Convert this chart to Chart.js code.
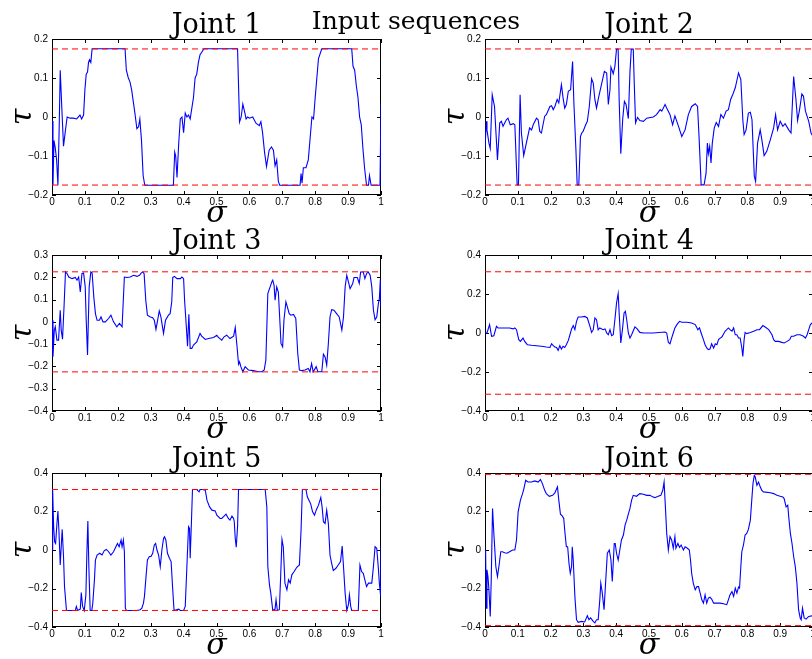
<!DOCTYPE html>
<html>
<head>
<meta charset="utf-8">
<script src="https://cdn.jsdelivr.net/npm/chart.js@4.4.1/dist/chart.umd.min.js"></script>
<style>
  html, body { margin: 0; padding: 0; background: #fff; }
  body { width: 812px; height: 659px; overflow: hidden; position: relative; }
  canvas { position: absolute; }
  #mainTitle {
    position: absolute; left: 0; width: 832px; top: 8px; text-align: center;
    font: 25px/25px "DejaVu Serif", serif; color: #000;
  }
</style>
</head>
<body>
<canvas id="c1" width="400" height="217" style="left:0;top:12px"></canvas>
<canvas id="c2" width="400" height="217" style="left:433px;top:12px"></canvas>
<canvas id="c3" width="400" height="217" style="left:0;top:228px"></canvas>
<canvas id="c4" width="400" height="217" style="left:433px;top:228px"></canvas>
<canvas id="c5" width="400" height="215" style="left:0;top:446px"></canvas>
<canvas id="c6" width="400" height="215" style="left:433px;top:446px"></canvas>
<div id="mainTitle">Input sequences</div>

<script>
// values: [sigma, tau]
const joint1 = [[0,-0.01],[0.003,-0.175],[0.006,-0.06],[0.01,-0.08],[0.014,-0.11],[0.018,-0.175],[0.022,-0.02],[0.025,0.12],[0.03,0.02],[0.035,-0.075],[0.04,-0.04],[0.046,0],[0.055,-0.003],[0.065,-0.003],[0.075,-0.005],[0.085,0.005],[0.09,-0.005],[0.096,0.005],[0.1,0.07],[0.104,0.11],[0.108,0.115],[0.111,0.14],[0.114,0.147],[0.118,0.14],[0.122,0.175],[0.222,0.175],[0.226,0.12],[0.232,0.1],[0.237,0.09],[0.242,0.07],[0.247,0.04],[0.252,0.01],[0.258,-0.03],[0.263,-0.025],[0.267,-0.005],[0.272,-0.06],[0.277,-0.15],[0.282,-0.175],[0.369,-0.175],[0.373,-0.09],[0.376,-0.1],[0.38,-0.155],[0.385,-0.07],[0.39,-0.005],[0.395,0],[0.4,-0.04],[0.405,0.01],[0.41,0],[0.415,0.005],[0.42,-0.005],[0.43,0.05],[0.435,0.1],[0.44,0.11],[0.445,0.14],[0.45,0.16],[0.462,0.175],[0.564,0.175],[0.567,0.08],[0.57,-0.013],[0.575,0],[0.58,0.033],[0.585,0.015],[0.59,-0.005],[0.595,0],[0.6,-0.003],[0.61,0],[0.62,-0.016],[0.63,-0.022],[0.635,-0.012],[0.64,-0.04],[0.646,-0.09],[0.652,-0.127],[0.66,-0.085],[0.667,-0.077],[0.673,-0.085],[0.678,-0.125],[0.683,-0.11],[0.688,-0.165],[0.692,-0.175],[0.754,-0.175],[0.757,-0.145],[0.76,-0.17],[0.764,-0.13],[0.772,-0.13],[0.779,-0.11],[0.785,-0.05],[0.79,0],[0.795,-0.005],[0.8,0.05],[0.805,0.1],[0.81,0.15],[0.82,0.175],[0.911,0.175],[0.915,0.13],[0.92,0.12],[0.925,0.08],[0.93,0.05],[0.935,0],[0.94,-0.02],[0.945,-0.08],[0.95,-0.13],[0.956,-0.175],[0.962,-0.175],[0.965,-0.15],[0.97,-0.175],[0.997,-0.175],[1,0.035]];

const joint2 = [[0,-0.081],[0.004,-0.011],[0.006,-0.033],[0.012,-0.067],[0.016,-0.081],[0.022,0.057],[0.029,0.027],[0.038,-0.11],[0.045,-0.015],[0.05,-0.011],[0.055,-0.024],[0.065,-0.007],[0.07,-0.003],[0.077,-0.02],[0.086,-0.017],[0.091,-0.02],[0.098,-0.174],[0.102,-0.174],[0.107,0.057],[0.111,-0.041],[0.118,-0.099],[0.126,-0.067],[0.136,-0.028],[0.142,-0.033],[0.147,-0.02],[0.157,-0.003],[0.162,-0.007],[0.167,-0.037],[0.172,-0.041],[0.182,0.002],[0.187,0.006],[0.198,0.027],[0.203,0.029],[0.208,0.019],[0.213,0.027],[0.22,0.045],[0.225,0.036],[0.233,0.083],[0.238,0.049],[0.243,0.023],[0.248,0.032],[0.254,0.066],[0.261,0.07],[0.267,0.142],[0.271,0.036],[0.277,-0.08],[0.281,-0.174],[0.286,-0.174],[0.291,-0.05],[0.295,-0.041],[0.299,-0.037],[0.307,-0.02],[0.312,-0.011],[0.318,0.027],[0.325,0.098],[0.33,0.087],[0.335,0.045],[0.34,0.023],[0.347,0.053],[0.355,0.083],[0.364,0.117],[0.371,0.113],[0.376,0.032],[0.381,0.07],[0.384,0.128],[0.391,0.111],[0.396,0.13],[0.401,0.174],[0.406,0.174],[0.409,0.045],[0.414,-0.094],[0.42,-0.003],[0.425,0.04],[0.43,0.032],[0.437,-0.004],[0.442,0.117],[0.446,0.174],[0.452,0.174],[0.455,0.087],[0.459,-0.015],[0.465,-0.001],[0.472,-0.009],[0.483,-0.011],[0.493,-0.003],[0.513,0],[0.523,0.006],[0.534,0.019],[0.539,0.015],[0.549,0.032],[0.554,0.023],[0.564,0.006],[0.572,-0.02],[0.579,0.003],[0.59,-0.024],[0.6,-0.05],[0.61,-0.033],[0.62,0.006],[0.63,0.027],[0.641,0.034],[0.648,0.027],[0.653,-0.058],[0.659,-0.174],[0.668,-0.174],[0.674,-0.144],[0.678,-0.067],[0.681,-0.094],[0.685,-0.075],[0.689,-0.118],[0.693,-0.067],[0.699,-0.028],[0.705,-0.014],[0.712,-0.024],[0.719,0.006],[0.727,-0.003],[0.735,0.015],[0.742,0.019],[0.749,0.045],[0.756,0.059],[0.763,0.075],[0.773,0.113],[0.78,0.096],[0.786,-0.007],[0.79,-0.045],[0.796,-0.033],[0.803,0.01],[0.809,0.012],[0.814,-0.007],[0.821,-0.152],[0.825,-0.165],[0.831,-0.067],[0.839,-0.033],[0.844,-0.058],[0.851,-0.099],[0.859,-0.088],[0.87,-0.058],[0.88,-0.028],[0.886,0.006],[0.892,-0.033],[0.9,-0.011],[0.908,-0.024],[0.915,-0.017],[0.926,-0.033],[0.933,-0.041],[0.941,0.104],[0.948,0.045],[0.953,-0.009],[0.959,0.019],[0.966,0.059],[0.971,0.053],[0.977,0.015],[0.987,-0.011],[0.994,-0.041],[1,-0.05]];

const joint3 = [[0,0.007],[0.003,-0.157],[0.007,-0.037],[0.01,-0.022],[0.015,-0.082],[0.02,-0.082],[0.025,0.052],[0.028,-0.037],[0.032,-0.078],[0.037,0.082],[0.041,0.224],[0.046,0.216],[0.051,0.201],[0.061,0.194],[0.071,0.199],[0.076,0.187],[0.081,0.201],[0.086,0.134],[0.091,0.216],[0.096,0.219],[0.101,0.157],[0.104,0.007],[0.108,-0.149],[0.113,0.157],[0.118,0.224],[0.122,0.219],[0.127,0.112],[0.132,0.037],[0.137,0.007],[0.144,0.007],[0.149,0.022],[0.155,0],[0.162,0],[0.172,0.015],[0.179,0.03],[0.187,0],[0.197,-0.022],[0.205,-0.007],[0.213,-0.022],[0.22,0.201],[0.228,0.199],[0.238,0.201],[0.248,0.209],[0.258,0.204],[0.266,0.209],[0.271,0.219],[0.276,0.224],[0.28,0.216],[0.285,0.097],[0.29,0.03],[0.299,0.022],[0.306,0.019],[0.311,0.007],[0.316,-0.034],[0.321,0.007],[0.326,0.049],[0.331,0.022],[0.339,-0.052],[0.345,0.007],[0.354,0.03],[0.359,0.037],[0.364,0.09],[0.367,0.199],[0.372,0.204],[0.38,0.194],[0.39,0.194],[0.395,0.201],[0.4,0.194],[0.403,0.097],[0.407,0.007],[0.412,-0.109],[0.416,0.034],[0.42,-0.119],[0.425,-0.119],[0.43,-0.104],[0.44,-0.09],[0.45,-0.052],[0.455,-0.064],[0.466,-0.079],[0.476,-0.075],[0.491,-0.07],[0.501,-0.06],[0.506,-0.07],[0.516,-0.082],[0.523,-0.067],[0.531,-0.06],[0.541,-0.075],[0.552,-0.064],[0.557,-0.025],[0.562,-0.104],[0.567,-0.19],[0.57,-0.179],[0.574,-0.201],[0.58,-0.224],[0.587,-0.201],[0.597,-0.216],[0.612,-0.219],[0.628,-0.224],[0.638,-0.224],[0.645,-0.216],[0.65,-0.172],[0.653,-0.022],[0.656,0.127],[0.663,0.157],[0.668,0.179],[0.671,0.187],[0.675,0.164],[0.678,0.097],[0.683,0.157],[0.688,0.134],[0.693,-0.007],[0.696,-0.097],[0.701,-0.112],[0.705,0.007],[0.711,0.09],[0.716,0.064],[0.721,0.037],[0.726,0.03],[0.734,0.033],[0.741,0.015],[0.747,-0.142],[0.752,-0.216],[0.759,-0.219],[0.769,-0.216],[0.779,-0.209],[0.784,-0.224],[0.789,-0.187],[0.794,-0.224],[0.803,-0.201],[0.808,-0.224],[0.815,-0.224],[0.82,-0.224],[0.825,-0.145],[0.83,-0.157],[0.835,-0.194],[0.84,-0.097],[0.845,0.022],[0.85,0.055],[0.857,0.052],[0.865,0.037],[0.873,0.022],[0.881,-0.037],[0.886,0.022],[0.891,0.157],[0.896,0.209],[0.901,0.179],[0.906,0.149],[0.914,0.172],[0.918,0.199],[0.928,0.199],[0.934,0.172],[0.938,0.224],[0.946,0.224],[0.951,0.194],[0.956,0.216],[0.961,0.224],[0.967,0.209],[0.972,0.157],[0.977,0.052],[0.982,0.01],[0.987,0.022],[0.992,0.082],[0.995,0.104],[0.998,0.19],[1,0.067]];

const joint4 = [[0,0],[0.006,0],[0.014,0.043],[0.02,-0.017],[0.027,-0.014],[0.035,0.034],[0.04,0.026],[0.06,0.026],[0.075,0.026],[0.086,0.021],[0.091,0.026],[0.096,0.017],[0.103,-0.034],[0.108,-0.043],[0.116,-0.026],[0.121,-0.043],[0.129,-0.06],[0.142,-0.063],[0.157,-0.065],[0.172,-0.068],[0.187,-0.072],[0.198,-0.074],[0.203,-0.055],[0.208,-0.065],[0.213,-0.072],[0.218,-0.074],[0.223,-0.089],[0.228,-0.065],[0.233,-0.082],[0.238,-0.068],[0.243,-0.074],[0.248,-0.06],[0.254,-0.038],[0.259,-0.009],[0.264,0.021],[0.269,0.038],[0.274,0.017],[0.279,0.06],[0.284,0.082],[0.294,0.082],[0.304,0.085],[0.312,0.077],[0.32,0.034],[0.325,0.003],[0.33,0.017],[0.335,0.077],[0.34,0.068],[0.345,0.017],[0.35,0.026],[0.36,0.017],[0.366,0.021],[0.371,0],[0.376,-0.009],[0.381,0.017],[0.386,-0.014],[0.391,-0.009],[0.396,0.068],[0.401,0.154],[0.406,0.202],[0.409,0.103],[0.414,-0.051],[0.419,0.017],[0.424,0.103],[0.428,0.111],[0.432,0.068],[0.437,0],[0.442,-0.026],[0.447,-0.009],[0.457,0.031],[0.464,0.021],[0.472,0.003],[0.483,0],[0.513,0],[0.549,0.005],[0.554,0],[0.559,-0.048],[0.564,-0.055],[0.569,-0.026],[0.574,0],[0.579,0.026],[0.585,0.043],[0.593,0.06],[0.6,0.055],[0.615,0.055],[0.63,0.051],[0.641,0.043],[0.649,0.017],[0.654,0.026],[0.659,0],[0.666,-0.034],[0.671,-0.06],[0.676,-0.077],[0.681,-0.085],[0.686,-0.082],[0.691,-0.055],[0.697,-0.077],[0.702,-0.055],[0.707,-0.06],[0.712,-0.034],[0.717,-0.026],[0.722,-0.021],[0.732,0.009],[0.742,0.026],[0.747,0.017],[0.753,0.009],[0.758,0.026],[0.763,-0.009],[0.768,-0.009],[0.773,-0.026],[0.778,-0.026],[0.783,-0.077],[0.786,-0.12],[0.79,-0.034],[0.793,0.003],[0.798,-0.003],[0.809,0.003],[0.819,0.009],[0.829,0.017],[0.837,0.017],[0.847,0.038],[0.854,0.031],[0.865,0.017],[0.875,-0.009],[0.88,-0.034],[0.885,-0.043],[0.895,-0.043],[0.905,-0.048],[0.912,-0.051],[0.921,-0.043],[0.929,-0.034],[0.934,-0.017],[0.941,-0.017],[0.951,-0.009],[0.961,-0.009],[0.971,-0.017],[0.977,-0.026],[0.982,-0.009],[0.987,0.017],[0.992,0.043],[1,0.055]];

const joint5 = [[0,0],[0.002,0.31],[0.005,0.121],[0.008,0.043],[0.011,0.034],[0.015,0.138],[0.018,0.203],[0.021,0.103],[0.025,-0.078],[0.028,0.017],[0.031,0.107],[0.035,-0.034],[0.038,-0.19],[0.044,-0.314],[0.071,-0.314],[0.074,-0.293],[0.078,-0.314],[0.086,-0.307],[0.089,-0.221],[0.093,-0.293],[0.098,-0.314],[0.103,-0.233],[0.106,-0.017],[0.109,0.15],[0.112,-0.086],[0.116,-0.314],[0.121,-0.314],[0.124,-0.276],[0.129,-0.155],[0.132,-0.052],[0.137,-0.026],[0.145,-0.017],[0.152,-0.026],[0.159,-0.003],[0.165,0.003],[0.172,-0.009],[0.179,-0.026],[0.187,-0.009],[0.192,0.009],[0.199,0.034],[0.204,0.017],[0.21,0.052],[0.213,0.017],[0.217,0.052],[0.22,-0.009],[0.223,-0.302],[0.226,-0.314],[0.258,-0.314],[0.268,-0.31],[0.273,-0.302],[0.278,-0.276],[0.281,-0.241],[0.285,-0.155],[0.29,-0.052],[0.296,-0.034],[0.301,-0.034],[0.306,-0.017],[0.311,0.026],[0.315,0.034],[0.319,0],[0.324,-0.026],[0.329,-0.086],[0.334,0],[0.339,0.06],[0.342,0.069],[0.346,0.052],[0.351,-0.017],[0.357,-0.043],[0.362,-0.06],[0.367,-0.207],[0.371,-0.314],[0.385,-0.307],[0.39,-0.314],[0.4,-0.314],[0.405,-0.293],[0.41,-0.086],[0.415,0.121],[0.418,0.112],[0.42,-0.043],[0.424,0.155],[0.427,0.314],[0.44,0.314],[0.447,0.302],[0.45,0.314],[0.458,0.314],[0.466,0.31],[0.471,0.259],[0.479,0.224],[0.486,0.207],[0.496,0.203],[0.501,0.181],[0.511,0.164],[0.516,0.164],[0.523,0.176],[0.529,0.186],[0.536,0.164],[0.541,0.155],[0.547,0.176],[0.552,0.164],[0.554,0.147],[0.557,0.06],[0.56,0.014],[0.564,0.121],[0.567,0.314],[0.648,0.314],[0.653,0.224],[0.656,-0.086],[0.661,-0.181],[0.665,-0.224],[0.671,-0.314],[0.678,-0.307],[0.681,-0.259],[0.685,-0.314],[0.691,-0.31],[0.695,-0.138],[0.699,0.055],[0.703,0.017],[0.708,-0.172],[0.714,-0.207],[0.719,-0.155],[0.724,-0.172],[0.729,-0.129],[0.736,-0.112],[0.744,-0.09],[0.752,-0.078],[0.757,0.103],[0.761,0.314],[0.772,0.314],[0.776,0.276],[0.781,0.259],[0.786,0.241],[0.792,0.198],[0.798,0.181],[0.803,0.207],[0.81,0.233],[0.817,0.272],[0.821,0.224],[0.825,0.147],[0.83,0.138],[0.835,0.207],[0.84,0.138],[0.845,-0.026],[0.85,-0.069],[0.855,-0.107],[0.863,-0.095],[0.87,-0.078],[0.877,-0.06],[0.882,0.021],[0.886,-0.086],[0.891,-0.224],[0.896,-0.314],[0.901,-0.284],[0.904,-0.233],[0.908,-0.293],[0.911,-0.314],[0.931,-0.314],[0.936,-0.078],[0.941,-0.112],[0.946,-0.121],[0.951,-0.155],[0.956,-0.19],[0.962,-0.172],[0.972,-0.172],[0.977,-0.086],[0.982,0.017],[0.987,0.009],[0.992,-0.095],[0.995,-0.172],[0.999,-0.241],[1,0.017]];

const joint6 = [[0,0],[0.002,-0.026],[0.004,-0.302],[0.006,-0.103],[0.009,-0.138],[0.012,-0.207],[0.016,-0.345],[0.019,-0.155],[0.023,0.216],[0.027,0.086],[0.033,-0.086],[0.038,-0.138],[0.043,-0.078],[0.048,-0.009],[0.053,-0.009],[0.06,-0.014],[0.067,-0.017],[0.075,-0.009],[0.084,0],[0.091,0],[0.096,0.052],[0.101,0.198],[0.104,0.224],[0.108,0.259],[0.114,0.29],[0.118,0.314],[0.124,0.362],[0.131,0.353],[0.142,0.353],[0.152,0.359],[0.162,0.353],[0.169,0.366],[0.175,0.345],[0.182,0.31],[0.187,0.293],[0.196,0.279],[0.206,0.284],[0.213,0.297],[0.221,0.328],[0.225,0.259],[0.23,0.186],[0.236,0.176],[0.24,0.164],[0.244,0.086],[0.248,0.017],[0.252,0.017],[0.256,-0.069],[0.26,-0.121],[0.264,-0.086],[0.266,0.017],[0.269,-0.052],[0.274,-0.241],[0.279,-0.362],[0.284,-0.376],[0.294,-0.371],[0.304,-0.374],[0.312,-0.341],[0.317,-0.362],[0.322,-0.353],[0.33,-0.371],[0.335,-0.379],[0.34,-0.362],[0.345,-0.362],[0.35,-0.259],[0.353,-0.172],[0.357,-0.216],[0.363,-0.31],[0.367,-0.19],[0.373,-0.017],[0.379,0],[0.384,-0.052],[0.388,-0.164],[0.391,-0.069],[0.394,0.034],[0.397,0.034],[0.401,-0.017],[0.406,-0.052],[0.411,0],[0.416,0.052],[0.422,0.078],[0.427,0.129],[0.432,0.155],[0.437,0.186],[0.442,0.216],[0.447,0.259],[0.452,0.284],[0.462,0.279],[0.472,0.293],[0.483,0.29],[0.493,0.284],[0.503,0.284],[0.511,0.276],[0.518,0.272],[0.528,0.279],[0.536,0.284],[0.542,0.31],[0.546,0.353],[0.55,0.224],[0.554,0.086],[0.559,0],[0.564,0.069],[0.569,0.052],[0.574,0.009],[0.579,0.069],[0.582,0.009],[0.588,0.034],[0.593,0.014],[0.598,0.026],[0.605,0],[0.61,0.017],[0.617,0.009],[0.623,0],[0.627,-0.06],[0.63,-0.121],[0.635,-0.172],[0.641,-0.207],[0.646,-0.19],[0.651,-0.19],[0.656,-0.224],[0.661,-0.259],[0.666,-0.276],[0.671,-0.233],[0.676,-0.276],[0.681,-0.25],[0.686,-0.245],[0.691,-0.255],[0.697,-0.276],[0.717,-0.276],[0.727,-0.279],[0.737,-0.284],[0.742,-0.259],[0.747,-0.233],[0.753,-0.216],[0.758,-0.241],[0.763,-0.198],[0.768,-0.224],[0.773,-0.193],[0.776,-0.198],[0.78,-0.086],[0.783,-0.009],[0.788,0.026],[0.793,0.078],[0.798,0.086],[0.803,0.107],[0.809,0.155],[0.814,0.276],[0.817,0.345],[0.821,0.388],[0.824,0.379],[0.829,0.336],[0.834,0.353],[0.839,0.328],[0.844,0.31],[0.849,0.302],[0.87,0.297],[0.88,0.293],[0.89,0.284],[0.9,0.279],[0.908,0.276],[0.912,0.267],[0.918,0.224],[0.923,0.233],[0.926,0.172],[0.931,0.086],[0.936,0.034],[0.941,-0.034],[0.946,-0.086],[0.951,-0.172],[0.956,-0.31],[0.961,-0.353],[0.964,-0.362],[0.968,-0.302],[0.973,-0.353],[0.979,-0.359],[0.987,-0.345],[1,-0.341]];

const series = [joint1, joint2, joint3, joint4, joint5, joint6];
const titles = ['Joint 1', 'Joint 2', 'Joint 3', 'Joint 4', 'Joint 5', 'Joint 6'];
const limits = [0.1745, 0.1745, 0.2245, 0.314, 0.314, 0.393];
const yMin = [-0.2, -0.2, -0.4, -0.4, -0.4, -0.4];
const yMax = [0.2, 0.2, 0.3, 0.4, 0.4, 0.4];
const yStep = [0.1, 0.1, 0.1, 0.2, 0.2, 0.2];
const xMin = 0, xMax = 1, xStep = 0.1;

const serif = '"DejaVu Serif", serif';
const sans = '"Liberation Sans", Arial, sans-serif';

function fmt(v) {
    return String(Number(v.toFixed(2))).replace('-', '\u2212');
}

// box + inward ticks on all four sides, drawn under the curves
const boxPlugin = {
    id: 'box',
    beforeDatasetsDraw(chart) {
        const { ctx, chartArea: a, scales: { x, y } } = chart;
        ctx.save();
        ctx.strokeStyle = '#000';
        ctx.lineWidth = 1;
        ctx.beginPath();
        x.ticks.forEach(t => {
            const px = Math.round(x.getPixelForValue(t.value)) + 0.5;
            ctx.moveTo(px, a.bottom); ctx.lineTo(px, a.bottom - 4);
            ctx.moveTo(px, a.top); ctx.lineTo(px, a.top + 4);
        });
        y.ticks.forEach(t => {
            const py = Math.round(y.getPixelForValue(t.value)) + 0.5;
            ctx.moveTo(a.left, py); ctx.lineTo(a.left + 4, py);
            ctx.moveTo(a.right, py); ctx.lineTo(a.right - 4, py);
        });
        ctx.stroke();
        ctx.strokeRect(a.left + 0.5, a.top + 0.5, a.right - a.left - 1, a.bottom - a.top - 1);
        ctx.restore();
    }
};

series.forEach((pts, i) => {
    const right = i % 2 === 1;
    const lim = limits[i];
    new Chart(document.getElementById('c' + (i + 1)), {
        type: 'line',
        data: {
            datasets: [
                {
                    data: [{ x: xMin, y: lim }, { x: xMax, y: lim }],
                    borderColor: '#ff0000', borderWidth: 1, borderDash: [6, 4],
                    pointRadius: 0
                },
                {
                    data: [{ x: xMin, y: -lim }, { x: xMax, y: -lim }],
                    borderColor: '#ff0000', borderWidth: 1, borderDash: [6, 4],
                    pointRadius: 0
                },
                {
                    data: pts.map(p => ({ x: p[0], y: p[1] })),
                    borderColor: '#0000ff', borderWidth: 1.1,
                    pointRadius: 0, tension: 0
                }
            ]
        },
        options: {
            responsive: false,
            animation: false,
            layout: { padding: { left: 0, right: right ? 20 : 19, top: 0, bottom: 0 } },
            plugins: {
                legend: { display: false },
                tooltip: { enabled: false },
                title: {
                    display: true, text: titles[i], fullSize: false,
                    color: '#000', padding: { top: 0, bottom: 0 },
                    font: { family: serif, size: 27, weight: 'normal', lineHeight: 1 }
                }
            },
            scales: {
                x: {
                    type: 'linear', min: xMin, max: xMax,
                    afterFit: s => { s.height = 34; },
                    grid: { display: false, drawTicks: false },
                    border: { display: false },
                    ticks: {
                        stepSize: xStep, autoSkip: false, maxRotation: 0, padding: 1,
                        color: '#000', font: { family: sans, size: 10 },
                        callback: v => fmt(v)
                    },
                    title: {
                        display: true, text: '\u03c3', color: '#000',
                        padding: { top: 0, bottom: 0 },
                        font: { family: serif, size: 30, style: 'italic', lineHeight: 1 }
                    }
                },
                y: {
                    min: yMin[i], max: yMax[i],
                    afterFit: s => { s.width = 52; },
                    grid: { display: false, drawTicks: false },
                    border: { display: false },
                    ticks: {
                        stepSize: yStep[i], autoSkip: false, padding: 4,
                        color: '#000', font: { family: sans, size: 10 },
                        callback: v => fmt(v)
                    },
                    title: {
                        display: true, text: '\u03c4', color: '#000',
                        padding: { top: 8, bottom: 0 },
                        font: { family: serif, size: 30, style: 'italic', lineHeight: 1 }
                    }
                }
            }
        },
        plugins: [boxPlugin]
    });
});
</script>
</body>
</html>
